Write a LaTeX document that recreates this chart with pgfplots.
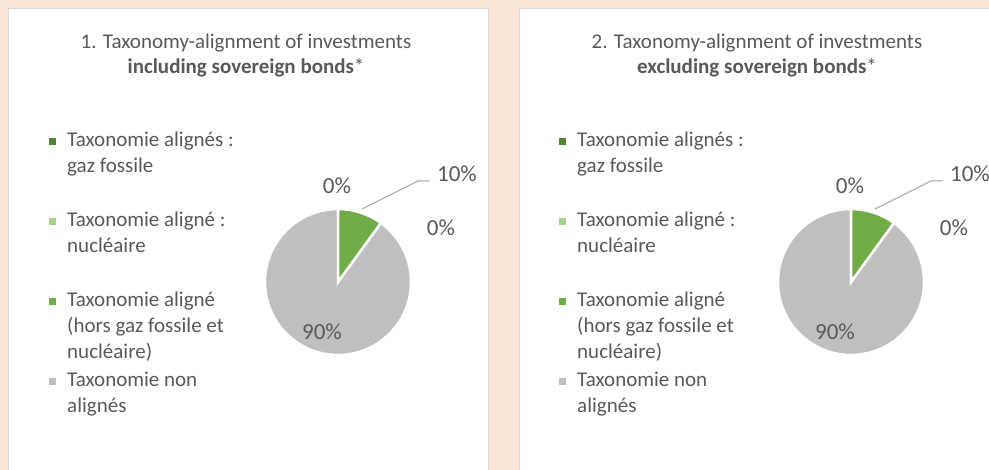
\documentclass[border=0pt]{standalone}
\usepackage{pgfplots}
\pgfplotsset{compat=1.18}
\usepackage{pgfplotstable}
\usepackage{fontspec}
\setmainfont{Carlito}
\definecolor{bg}{HTML}{FBE5D6}
\definecolor{txt}{HTML}{595959}
\definecolor{gdark}{HTML}{548235}
\definecolor{glight}{HTML}{A9D18E}
\definecolor{gmid}{HTML}{70AD47}
\definecolor{gry}{HTML}{BFBFBF}
\definecolor{lead}{HTML}{A6A6A6}
\definecolor{brd}{HTML}{D9D9D9}

% values in percent, in Excel order (clockwise from 12 o'clock)
\pgfplotstableread{
cat value
gaz 0
nuc 0
hors 10
non 90
}\dataone
\pgfplotstableread{
cat value
gaz 0
nuc 0
hors 10
non 90
}\datatwo

\newcommand{\getangles}[1]{%
  \pgfplotstablegetelem{0}{value}\of#1\pgfmathsetmacro\va{\pgfplotsretval}%
  \pgfplotstablegetelem{1}{value}\of#1\pgfmathsetmacro\vb{\pgfplotsretval}%
  \pgfplotstablegetelem{2}{value}\of#1\pgfmathsetmacro\vc{\pgfplotsretval}%
  \pgfplotstablegetelem{3}{value}\of#1\pgfmathsetmacro\vd{\pgfplotsretval}%
  \pgfmathsetmacro\aA{90}%
  \pgfmathsetmacro\aB{\aA-3.6*\va}%
  \pgfmathsetmacro\aC{\aB-3.6*\vb}%
  \pgfmathsetmacro\aD{\aC-3.6*\vc}%
  \pgfmathsetmacro\aE{\aD-3.6*\vd}%
}
\newcommand{\slice}[3]{%
  \fill[#1,draw=white,line width=2.5pt,line join=miter]
    (axis cs:0,0) -- (axis cs:{cos(#2)},{sin(#2)})
    arc[start angle=#2,end angle=#3,radius=73pt] -- cycle;
}
\newcommand{\panel}[3]{% #1 offset, #2 number, #3 bold text
  \fill[white,draw=brd,line width=0.8pt] (8+#1,-5) rectangle (488+#1,462);
  \node[anchor=base,inner sep=0,text=txt,font=\fontsize{21}{25}\selectfont] at (246+#1,421) {#2. Taxonomy-alignment of investments};
  \node[anchor=base,inner sep=0,text=txt,font=\fontsize{21}{25}\selectfont] at (246+#1,396) {\textbf{#3}*};
}
\newcommand{\legendblock}[1]{%
  \begin{scope}[every node/.style={anchor=base west,inner sep=0,text=txt,font=\fontsize{21}{25}\selectfont}]
  \fill[gdark]  (49+#1,470-147+5-3.5) rectangle ++(7,7);
  \fill[glight] (49+#1,470-227+5-3.5) rectangle ++(7,7);
  \fill[gmid]   (49+#1,470-307+5-3.5) rectangle ++(7,7);
  \fill[gry]    (49+#1,470-387+5-3.5) rectangle ++(7,7);
  \node at (67+#1,470-147) {Taxonomie alignés :};
  \node at (67+#1,470-172.6) {gaz fossile};
  \node at (67+#1,470-227) {Taxonomie aligné :};
  \node at (67+#1,470-252.6) {nucléaire};
  \node at (67+#1,470-307) {Taxonomie aligné};
  \node at (67+#1,470-332.6) {(hors gaz fossile et};
  \node at (67+#1,470-358.2) {nucléaire)};
  \node at (67+#1,470-387) {Taxonomie non};
  \node at (67+#1,470-412.6) {alignés};
  \end{scope}
}
\newcommand{\pielabels}[1]{%
  \begin{scope}[every node/.style={anchor=base,inner sep=0,text=txt,font=\fontsize{23}{27}\selectfont}]
  \draw[lead,line width=1pt] (362+#1,470-209) -- (418+#1,470-181) -- (430+#1,470-181);
  \node at (337+#1,470-194) {0\%};
  \node at (457+#1,470-182) {10\%};
  \node at (441+#1,470-236) {0\%};
  \node at (322+#1,470-340) {90\%};
  \end{scope}
}
\pgfplotsset{pieaxis/.style={scale only axis,width=146pt,height=146pt,
  xmin=-1,xmax=1,ymin=-1,ymax=1,hide axis,clip=false,anchor=center}}

\begin{document}
\begin{tikzpicture}[x=1pt,y=1pt]
\clip (0,0) rectangle (989,470);
\fill[bg] (0,0) rectangle (989,470);
\panel{0}{1}{including sovereign bonds}
\panel{511}{2}{excluding sovereign bonds}
\legendblock{0}
\legendblock{510}

\getangles{\dataone}
\begin{axis}[pieaxis,at={(338pt,188pt)}]
\slice{gry}{\aD}{\aE}
\slice{gdark}{\aA}{\aB}
\slice{glight}{\aB}{\aC}
\slice{gmid}{\aC}{\aD}
\end{axis}
\pielabels{0}

\getangles{\datatwo}
\begin{axis}[pieaxis,at={(851pt,188pt)}]
\slice{gry}{\aD}{\aE}
\slice{gdark}{\aA}{\aB}
\slice{glight}{\aB}{\aC}
\slice{gmid}{\aC}{\aD}
\end{axis}
\pielabels{513}
\end{tikzpicture}
\end{document}
